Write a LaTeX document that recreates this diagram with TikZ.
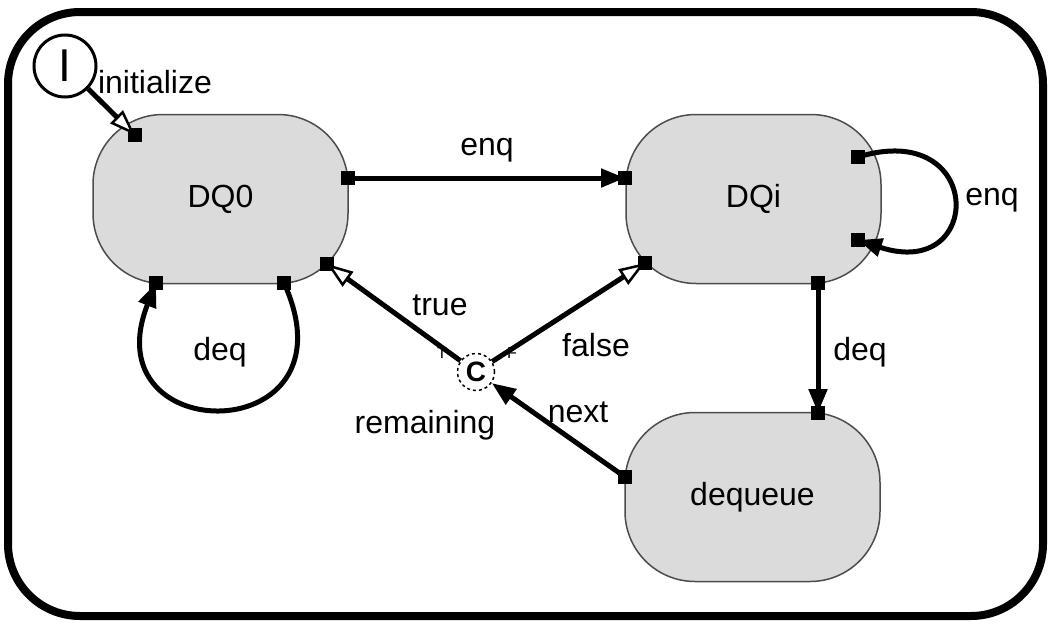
\documentclass[tikz,border=0pt]{standalone}
\usepackage{fontspec}
\setmainfont{Liberation Sans}
\usepackage{tikz}
\usetikzlibrary{positioning,
                arrows.meta,                % arrow tips
                shapes.geometric}

\tikzset{
  state/.style={draw=black!70, line width=1.5pt, fill=black!14, rounded corners=70pt,
                minimum width=255pt, minimum height=169pt, font=\fontsize{32}{36}\selectfont},
  port/.style={fill=black, inner sep=0pt, minimum size=14pt},
  trans/.style={line width=5pt, -{Triangle[length=24pt,width=18pt]}},
  otrans/.style={line width=5pt, -{Triangle[open,length=26pt,width=18pt,fill=white,line width=2.5pt]}},
  lbl/.style={font=\fontsize{32}{36}\selectfont, inner sep=1pt},
}

\begin{document}
\begin{tikzpicture}[x=1pt, y=-1pt]
      \useasboundingbox (0,0) rectangle (1050,624);
      \draw[line width=8pt, rounded corners=72pt] (8,12) rectangle (1043,616);

      % states
      \node[state] (dq0) at (220.5,199) {DQ0};
      \node[state] (dqi) at (753.5,199) {DQi};
      \node[state] (deq) at (752.5,497) {dequeue};

      % initial and conditional pseudo states
      \node[circle, draw, line width=3pt, minimum size=62pt, inner sep=0pt,
            font=\fontsize{46}{46}\selectfont] (init) at (65,66) {I};
      \node[circle, draw, dashed, line width=1.5pt, fill=white, minimum size=37pt, inner sep=0pt,
            font=\bfseries\fontsize{28}{28}\selectfont] (cond) at (476,372) {C};
      \node[font=\fontsize{16}{16}\selectfont] at (442,353) {T};
      \node[font=\fontsize{16}{16}\selectfont] at (512,353) {F};

      % ports
      \node[port] (p1) at (135,135) {};
      \node[port] (p2) at (348,178) {};
      \node[port] (p3) at (327,264) {};
      \node[port] (p4) at (156,283) {};
      \node[port] (p5) at (284,283) {};
      \node[port] (p6) at (625,178) {};
      \node[port] (p7) at (858,157) {};
      \node[port] (p8) at (858,240) {};
      \node[port] (p9) at (645,263) {};
      \node[port] (p10) at (818,283) {};
      \node[port] (p11) at (818,413) {};
      \node[port] (p12) at (625,477) {};

      % transitions
      \draw[otrans] (init) -- (p1.center);
      \draw[trans] (p2.center) -- (p6.center);
      \draw[trans] (p5.center) .. controls (360,450) and (90,450) .. (p4.center);
      \draw[trans] (p7.center) .. controls (985,118) and (985,282) .. (p8.center);
      \draw[trans] (p10.center) -- (p11.center);
      \draw[trans] (p12.center) -- (cond);
      \draw[otrans] (cond) -- (p3.center);
      \draw[otrans] (cond) -- (p9.center);

      % labels
      \node[lbl] at (155,82) {initialize};
      \node[lbl] at (487,150) {enq};
      \node[lbl] at (992,200) {enq};
      \node[lbl] at (220,352) {deq};
      \node[lbl] at (860,352) {deq};
      \node[lbl] at (440,305) {true};
      \node[lbl] at (596,345) {false};
      \node[lbl] at (578,412) {next};
      \node[lbl] at (425,425) {remaining};
\end{tikzpicture}
\end{document}
